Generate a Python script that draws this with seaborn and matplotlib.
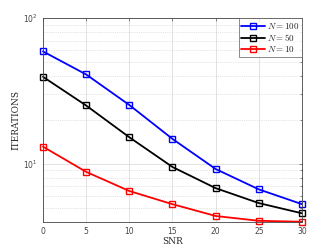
import numpy as np
import pandas as pd
import seaborn as sns
import matplotlib.pyplot as plt

# values
snr = [0, 5, 10, 15, 20, 25, 30]
iters_n100 = [59, 41, 25.3, 14.8, 9.2, 6.67, 5.28]
iters_n50 = [39.5, 25.1, 15.2, 9.5, 6.8, 5.37, 4.57]
iters_n10 = [13.1, 8.8, 6.5, 5.28, 4.38, 4.06, 4.0]
labels = ['$N = 100$', '$N = 50$', '$N = 10$']
colors = ['#0000ff', '#000000', '#ff0000']

sns.set_style('white')
plt.rcParams['mathtext.fontset'] = 'cm'

fig = plt.figure(figsize=(3.33, 2.5), dpi=100)
ax = fig.add_axes([0.129, 0.113, 0.778, 0.815])

for vals, lab, c in zip([iters_n100, iters_n50, iters_n10], labels, colors):
    sns.lineplot(x=snr, y=vals, color=c, label=lab, marker='s', markersize=4,
                 markerfacecolor='none', markeredgecolor=c, markeredgewidth=1.0,
                 linewidth=1.3, ax=ax, clip_on=False)

ax.set_yscale('log')
ax.set_xlim(0, 30)
ax.set_ylim(4, 100)
ax.set_xticks(snr)
ax.grid(True, which='major', color='#dddddd', linewidth=0.6)
ax.grid(True, which='minor', axis='y', color='#cccccc', linewidth=0.5, linestyle=':')
ax.tick_params(which='both', direction='in', top=True, right=True,
               labelsize=5.5, labelcolor='#444444', length=2, width=0.5, color='#555555')
ax.tick_params(which='minor', length=1.2)
ax.yaxis.set_minor_formatter(plt.NullFormatter())
for s in ax.spines.values():
    s.set_color('#444444')
    s.set_linewidth(0.6)

ax.set_xlabel('SNR', family='serif', fontsize=6.5, labelpad=1)
ax.set_ylabel('ITERATIONS', family='serif', fontsize=6.5, labelpad=2)

leg = ax.legend(loc='upper right', fontsize=6.5, frameon=True, fancybox=False,
                borderaxespad=0, handlelength=2.6, handletextpad=0.2,
                borderpad=0.3, labelspacing=0.15)
leg.get_frame().set_edgecolor('#555555')
leg.get_frame().set_linewidth(0.6)
leg.set_zorder(5)

fig.savefig('out.png', dpi=100)
